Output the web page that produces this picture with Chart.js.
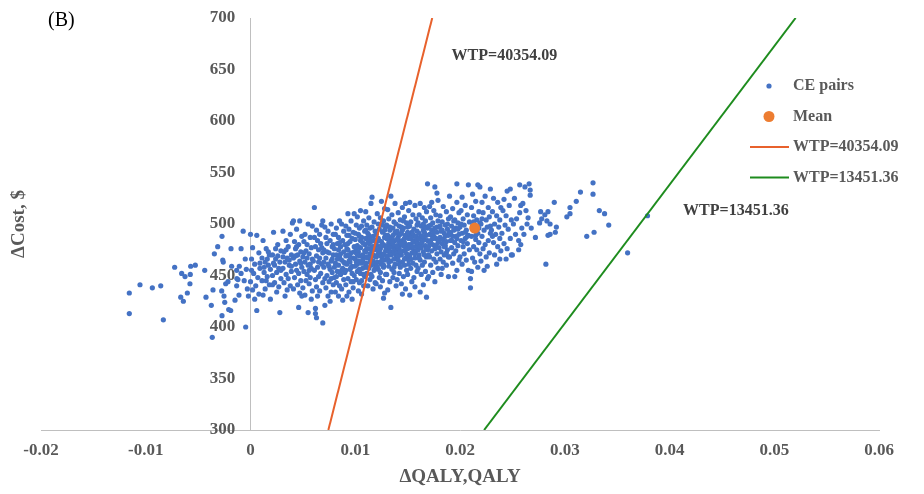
<!DOCTYPE html>
<html lang="en">
  <head>
    <meta charset="UTF-8" />
    <title>Cost-effectiveness plane (B)</title>
    <script src="https://cdn.jsdelivr.net/npm/chart.js"></script>
    <style>
      * {
        margin: 0;
        padding: 0;
        box-sizing: border-box;
      }

      body {
        background: #ffffff;
      }

      .chart-box {
        position: relative;
        width: 924px;
        height: 494px;
      }
    </style>
  </head>
  <body>
    <div class="chart-box">
      <canvas id="cePlane"></canvas>
    </div>

    <script>
      const xTicks = [-0.02, -0.01, 0, 0.01, 0.02, 0.03, 0.04, 0.05, 0.06];
      const yTicks = [300, 350, 400, 450, 500, 550, 600, 650, 700];
      const wtpValues = [40354.09, 13451.36];
      const meanPair = [0.0214, 496];

      // incremental QALY, incremental cost
      const cePairs = [
        [-0.01157,433],[-0.01157,413],[-0.01055,441],[-0.00937,438],[-0.00857,440],[-0.00832,407],[-0.00724,458],[-0.00657,452],
        [-0.00625,449],[-0.00571,459],[-0.00527,460],[-0.00575,451],[-0.00578,442],[-0.00603,433],[-0.00666,429],[-0.00641,425],
        [-0.00437,455],[-0.00425,429],[-0.00374,421],[-0.00365,390],[-0.00272,488],[-0.00313,478],[-0.00345,471],[-0.00186,476],
        [-0.00265,465],[-0.0026,463],[-0.0018,459],[-0.00358,436],[-0.00275,435],[-0.00253,430],[-0.00246,424],[-0.00208,417],
        [-0.00189,416],[-0.00272,411],[-0.00148,426],[-0.00237,442],[-0.00215,444],[-0.00132,455],[-0.00132,440],[-0.0011,431],
        [-0.00046,400],[-0.0007,493],[-0.00107,459],[-0.0009,452],[-0.0012,446],[-0.0004,456],[-0.0003,437],[-0.0006,445],
        [-0.0002,430],[-0.0009,476],[-0.0005,466],[-0.0013,447],
        [0.0000,490],[0.0006,489],[0.0002,477],[0.0008,472],[0.0001,466],[0.0004,461],[0.0009,457],[0.0003,452],[0.0007,448],
        [0.0000,444],[0.0005,440],[0.0002,436],[0.0008,432],[0.0004,427],[0.0006,416],[0.0009,462],[0.0001,455],
        [0.0012,484],[0.0015,476],[0.0018,470],[0.0011,467],[0.0014,463],[0.0017,460],[0.0019,456],[0.0013,453],[0.0016,449],
        [0.0011,445],[0.0018,441],[0.0014,437],[0.0012,431],[0.0019,427],[0.0016,466],[0.0013,458],[0.0017,473],[0.0015,445],
        [0.0022,492],[0.0026,480],[0.0029,474],[0.0021,470],[0.0024,466],[0.0028,463],[0.0023,460],[0.0027,457],[0.0025,453],
        [0.0021,450],[0.0029,447],[0.0023,443],[0.0027,439],[0.0025,434],[0.0028,414],[0.0022,462],[0.0026,469],[0.0024,476],
        [0.0029,455],[0.0021,441],
        [0.0031,493],[0.0038,490],[0.0040,501],[0.0034,484],[0.0036,478],[0.0032,473],[0.0039,470],[0.0035,467],[0.0033,463],
        [0.0037,460],[0.0031,457],[0.0039,454],[0.0034,451],[0.0036,447],[0.0032,443],[0.0038,440],[0.0035,436],[0.0033,430],
        [0.0037,465],[0.0031,468],[0.0039,459],[0.0034,475],
        [0.0041,503],[0.0047,503],[0.0044,495],[0.0049,488],[0.0042,483],[0.0046,480],[0.0043,476],[0.0048,473],[0.0045,470],
        [0.0041,467],[0.0047,464],[0.0043,461],[0.0049,458],[0.0044,455],[0.0046,452],[0.0042,448],[0.0048,445],[0.0045,441],
        [0.0041,437],[0.0047,433],[0.0049,430],[0.0046,419],[0.0043,469],[0.0048,462],[0.0044,478],
        [0.0055,500],[0.0059,498],[0.0052,490],[0.0057,487],[0.0051,483],[0.0054,480],[0.0058,477],[0.0053,474],[0.0056,471],
        [0.0050,468],[0.0059,466],[0.0052,463],[0.0055,460],[0.0058,457],[0.0051,454],[0.0054,451],[0.0057,448],[0.0053,445],
        [0.0056,442],[0.0050,438],[0.0059,435],[0.0052,431],[0.0055,414],[0.0058,427],[0.0054,467],[0.0057,461],[0.0051,472],
        [0.0056,455],
        [0.0061,516],[0.0069,503],[0.0068,499],[0.0063,494],[0.0066,490],[0.0061,487],[0.0064,484],[0.0067,481],[0.0062,478],
        [0.0065,475],[0.0069,472],[0.0063,469],[0.0066,467],[0.0060,464],[0.0068,461],[0.0064,458],[0.0061,455],[0.0067,452],
        [0.0065,449],[0.0062,446],[0.0069,443],[0.0063,439],[0.0066,435],[0.0064,430],[0.0062,418],[0.0062,413],[0.0063,409],
        [0.0069,404],[0.0065,463],[0.0068,477],
        [0.0071,497],[0.0077,500],[0.0074,493],[0.0079,490],[0.0072,487],[0.0076,484],[0.0073,481],[0.0078,478],[0.0070,475],
        [0.0075,472],[0.0079,470],[0.0072,467],[0.0077,464],[0.0074,461],[0.0070,458],[0.0076,456],[0.0078,453],[0.0073,450],
        [0.0071,447],[0.0075,444],[0.0079,441],[0.0072,438],[0.0077,434],[0.0074,430],[0.0076,425],[0.0071,421],[0.0078,466],
        [0.0073,473],[0.0075,459],[0.0079,480],[0.0070,463],[0.0077,447],
        [0.0085,503],[0.0087,500],[0.0082,496],[0.0089,493],[0.0081,490],[0.0084,487],[0.0088,484],[0.0083,481],[0.0086,478],
        [0.0080,476],[0.0089,473],[0.0082,470],[0.0085,468],[0.0087,465],[0.0081,462],[0.0084,460],[0.0088,457],[0.0083,454],
        [0.0086,451],[0.0080,448],[0.0089,446],[0.0082,443],[0.0085,440],[0.0087,437],[0.0081,434],[0.0084,430],[0.0088,426],
        [0.0083,466],[0.0086,471],[0.0080,458],[0.0089,463],[0.0084,475],[0.0087,455],[0.0082,449],[0.0085,482],
        [0.0093,510],[0.0099,510],[0.0096,503],[0.0091,498],[0.0094,495],[0.0098,492],[0.0092,489],[0.0097,486],[0.0095,483],
        [0.0090,480],[0.0099,478],[0.0093,475],[0.0096,472],[0.0091,469],[0.0098,467],[0.0094,464],[0.0092,461],[0.0097,459],
        [0.0095,456],[0.0090,453],[0.0099,450],[0.0093,447],[0.0096,444],[0.0091,441],[0.0098,438],[0.0094,434],[0.0092,430],
        [0.0097,427],[0.0095,468],[0.0090,462],[0.0099,473],[0.0093,481],[0.0096,458],[0.0092,476],[0.0097,452],[0.0094,489],
        [0.0091,455],[0.0098,444],[0.0095,463],[0.0093,470],
        [0.0105,513],[0.0102,507],[0.0108,503],[0.0101,499],[0.0104,496],[0.0109,493],[0.0103,490],[0.0106,487],[0.0100,485],
        [0.0107,482],[0.0102,479],[0.0105,477],[0.0109,474],[0.0101,472],[0.0104,469],[0.0108,467],[0.0103,464],[0.0106,462],
        [0.0100,459],[0.0107,457],[0.0102,454],[0.0105,452],[0.0109,449],[0.0101,446],[0.0104,443],[0.0108,440],[0.0103,435],
        [0.0106,432],[0.0100,466],[0.0107,470],[0.0102,461],[0.0105,484],[0.0109,458],[0.0101,476],[0.0104,488],[0.0108,451],
        [0.0103,473],[0.0106,445],[0.0100,491],[0.0107,465],[0.0102,470],[0.0109,480],[0.0104,456],[0.0106,498],[0.0101,463],
        [0.0116,526],[0.0115,520],[0.0110,512],[0.0113,506],[0.0118,502],[0.0111,499],[0.0114,496],[0.0119,493],[0.0112,491],
        [0.0117,488],[0.0110,486],[0.0115,483],[0.0113,481],[0.0118,478],[0.0111,476],[0.0116,474],[0.0114,471],[0.0119,469],
        [0.0112,467],[0.0117,464],[0.0110,462],[0.0115,460],[0.0113,457],[0.0118,455],[0.0111,452],[0.0116,449],[0.0114,446],
        [0.0119,443],[0.0112,440],[0.0117,437],[0.0110,473],[0.0115,467],[0.0113,489],[0.0118,484],[0.0111,458],[0.0116,478],
        [0.0114,463],[0.0119,475],[0.0112,482],[0.0117,470],[0.0110,494],[0.0115,451],[0.0113,476],[0.0118,461],[0.0111,468],
        [0.0116,497],[0.0114,485],[0.0119,457],
        [0.0125,522],[0.0128,515],[0.0121,510],[0.0124,506],[0.0127,503],[0.0122,500],[0.0129,497],[0.0123,495],[0.0126,492],
        [0.0120,490],[0.0128,487],[0.0121,485],[0.0125,483],[0.0127,480],[0.0122,478],[0.0124,476],[0.0129,474],[0.0123,472],
        [0.0126,470],[0.0120,468],[0.0128,465],[0.0121,463],[0.0125,461],[0.0127,458],[0.0122,456],[0.0124,453],[0.0129,451],
        [0.0123,448],[0.0126,445],[0.0120,442],[0.0128,433],[0.0127,428],[0.0124,439],[0.0122,471],[0.0125,479],[0.0129,489],
        [0.0121,476],[0.0126,466],[0.0123,484],[0.0127,460],[0.0120,481],[0.0128,494],[0.0124,469],[0.0122,486],[0.0125,464],
        [0.0129,478],[0.0121,459],[0.0126,499],[0.0123,474],[0.0127,471],
        [0.0134,527],[0.0138,520],[0.0131,514],[0.0135,509],[0.0132,505],[0.0137,502],[0.0130,499],[0.0136,496],[0.0133,494],
        [0.0139,491],[0.0131,489],[0.0134,486],[0.0138,484],[0.0132,482],[0.0135,479],[0.0137,477],[0.0130,475],[0.0136,473],
        [0.0133,471],[0.0139,468],[0.0131,466],[0.0134,464],[0.0138,461],[0.0132,459],[0.0135,456],[0.0137,453],[0.0130,451],
        [0.0136,448],[0.0133,444],[0.0139,440],[0.0134,419],[0.0131,436],[0.0135,487],[0.0132,474],[0.0138,492],[0.0136,481],
        [0.0130,469],[0.0133,497],[0.0137,466],[0.0131,479],[0.0139,476],[0.0134,470],[0.0136,489],[0.0132,463],[0.0138,471],
        [0.0135,483],[0.0130,486],[0.0137,458],[0.0133,477],[0.0139,500],
        [0.0148,520],[0.0145,516],[0.0141,511],[0.0147,507],[0.0143,504],[0.0149,501],[0.0142,498],[0.0146,496],[0.0140,493],
        [0.0144,491],[0.0148,489],[0.0141,487],[0.0145,484],[0.0147,482],[0.0143,480],[0.0149,478],[0.0142,476],[0.0146,474],
        [0.0140,472],[0.0144,470],[0.0148,467],[0.0141,465],[0.0145,463],[0.0147,460],[0.0143,458],[0.0149,455],[0.0142,452],
        [0.0146,449],[0.0140,446],[0.0144,442],[0.0148,437],[0.0145,432],[0.0141,477],[0.0147,486],[0.0143,490],[0.0149,471],
        [0.0142,483],[0.0146,479],[0.0140,485],[0.0144,497],[0.0148,475],[0.0141,469],[0.0145,494],[0.0147,466],[0.0143,473],
        [0.0149,488],[0.0142,461],[0.0146,503],[0.0140,479],[0.0144,481],
        [0.0152,521],[0.0157,518],[0.0151,513],[0.0155,509],[0.0158,505],[0.0153,502],[0.0159,499],[0.0150,497],[0.0156,495],
        [0.0154,492],[0.0152,490],[0.0157,488],[0.0151,486],[0.0155,484],[0.0158,482],[0.0153,480],[0.0159,478],[0.0150,476],
        [0.0156,474],[0.0154,472],[0.0152,469],[0.0157,467],[0.0151,465],[0.0155,462],[0.0158,460],[0.0153,457],[0.0159,454],
        [0.0150,451],[0.0156,448],[0.0154,444],[0.0152,431],[0.0157,439],[0.0151,480],[0.0155,490],[0.0158,474],[0.0153,486],
        [0.0159,493],[0.0150,470],[0.0156,483],[0.0154,477],[0.0152,498],[0.0157,471],[0.0151,461],[0.0155,478],[0.0158,488],
        [0.0153,466],[0.0159,484],[0.0150,492],
        [0.0169,539],[0.0162,520],[0.0166,516],[0.0168,512],[0.0161,509],[0.0164,506],[0.0167,503],[0.0160,501],[0.0163,498],
        [0.0169,496],[0.0165,494],[0.0161,491],[0.0168,489],[0.0162,487],[0.0166,485],[0.0164,483],[0.0160,481],[0.0167,479],
        [0.0163,477],[0.0169,475],[0.0165,473],[0.0161,470],[0.0168,468],[0.0162,465],[0.0166,463],[0.0164,460],[0.0160,457],
        [0.0167,454],[0.0163,451],[0.0169,447],[0.0162,434],[0.0168,429],[0.0165,441],[0.0161,486],[0.0166,492],[0.0163,481],
        [0.0167,497],[0.0160,475],[0.0164,488],[0.0169,484],[0.0162,478],[0.0165,500],[0.0161,467],[0.0168,476],[0.0166,470],
        [0.0176,536],[0.0178,530],[0.0179,523],[0.0173,521],[0.0171,517],[0.0175,513],[0.0177,509],[0.0172,506],[0.0179,503],
        [0.0174,501],[0.0170,498],[0.0176,496],[0.0173,494],[0.0178,492],[0.0171,490],[0.0175,488],[0.0177,486],[0.0172,484],
        [0.0179,482],[0.0174,480],[0.0170,478],[0.0176,476],[0.0173,474],[0.0178,471],[0.0171,468],[0.0175,466],[0.0177,463],
        [0.0172,460],[0.0179,457],[0.0174,453],[0.0170,449],[0.0176,444],[0.0173,489],[0.0178,497],[0.0171,482],[0.0175,492],
        [0.0177,479],[0.0172,499],[0.0174,486],[0.0170,470],
        [0.0190,527],[0.0184,517],[0.0187,512],[0.0181,508],[0.0189,505],[0.0183,502],[0.0186,499],[0.0180,497],[0.0188,495],
        [0.0182,493],[0.0185,491],[0.0189,489],[0.0181,487],[0.0184,485],[0.0187,483],[0.0183,481],[0.0186,479],[0.0180,477],
        [0.0188,475],[0.0182,473],[0.0185,470],[0.0189,468],[0.0181,466],[0.0184,463],[0.0187,460],[0.0183,457],[0.0182,451],
        [0.0189,449],[0.0186,488],[0.0180,484],[0.0188,500],[0.0185,478],[0.0183,494],[0.0187,472],[0.0181,498],
        [0.0197,539],[0.0197,521],[0.0193,515],[0.0199,511],[0.0191,507],[0.0195,504],[0.0198,501],[0.0192,498],[0.0196,496],
        [0.0194,494],[0.0190,492],[0.0199,490],[0.0193,488],[0.0197,486],[0.0191,484],[0.0195,482],[0.0198,479],[0.0192,477],
        [0.0196,474],[0.0194,471],[0.0190,468],[0.0199,465],[0.0193,462],[0.0197,455],[0.0195,449],[0.0191,491],[0.0196,488],
        [0.0198,495],[0.0192,484],[0.0194,503],
        [0.0208,538],[0.0202,526],[0.0205,518],[0.0201,513],[0.0207,509],[0.0203,505],[0.0209,502],[0.0204,499],[0.0200,497],
        [0.0206,494],[0.0202,491],[0.0208,489],[0.0205,486],[0.0201,484],[0.0207,481],[0.0203,478],[0.0209,475],[0.0204,471],
        [0.0200,468],[0.0206,465],[0.0202,461],[0.0208,455],[0.0210,447],[0.0210,438],[0.0205,492],[0.0201,500],[0.0207,488],
        [0.0203,483],
        [0.0217,538],[0.0219,536],[0.0212,529],[0.0215,522],[0.0211,516],[0.0218,512],[0.0213,508],[0.0216,504],[0.0219,501],
        [0.0212,498],[0.0214,494],[0.0217,491],[0.0211,488],[0.0215,485],[0.0218,482],[0.0213,478],[0.0216,475],[0.0219,471],
        [0.0212,467],[0.0214,463],[0.0217,458],[0.0211,454],[0.0215,489],[0.0218,496],[0.0213,502],
        [0.0229,534],[0.0224,527],[0.0221,521],[0.0227,516],[0.0222,511],[0.0228,507],[0.0225,504],[0.0220,500],[0.0226,497],
        [0.0223,494],[0.0229,491],[0.0221,488],[0.0227,484],[0.0224,480],[0.0222,476],[0.0228,472],[0.0225,468],[0.0220,464],
        [0.0226,459],[0.0223,455],[0.0229,498],[0.0221,505],
        [0.0232,525],[0.0236,521],[0.0239,516],[0.0231,512],[0.0235,508],[0.0238,504],[0.0233,500],[0.0237,497],[0.0230,494],
        [0.0234,490],[0.0238,486],[0.0232,482],[0.0236,478],[0.0239,474],[0.0233,470],[0.0238,466],[0.0235,461],[0.0231,488],
        [0.0245,532],[0.0248,534],[0.0242,524],[0.0247,518],[0.0241,513],[0.0244,508],[0.0249,504],[0.0243,499],[0.0246,495],
        [0.0240,491],[0.0248,486],[0.0242,481],[0.0245,476],[0.0249,470],[0.0244,466],
        [0.0257,538],[0.0252,525],[0.0258,518],[0.0257,511],[0.0254,505],[0.0251,500],[0.0259,496],[0.0253,490],[0.0256,484],
        [0.0256,475],[0.0250,470],[0.0258,480],
        [0.0262,536],[0.0266,539],[0.0267,533],[0.0267,528],[0.0260,520],[0.0263,513],[0.0265,506],[0.0268,496],[0.0261,490],
        [0.0264,500],
        [0.0272,487],[0.0276,501],[0.0281,509],[0.0283,503],[0.0284,489],[0.0282,461],[0.0286,500],[0.0286,490],[0.0290,521],
        [0.0291,492],[0.0292,497],[0.0277,512],[0.0284,512],[0.0278,505],
        [0.0327,540],[0.0327,529],[0.0315,531],[0.0311,522],[0.0305,516],[0.0305,510],[0.0302,507],[0.0333,513],[0.0338,510],
        [0.0342,499],[0.0328,492],[0.0321,488],[0.0360,472],[0.0379,508]
      ];

      const serif = '"Liberation Serif", "Times New Roman", serif';
      const textGrey = "#595959";
      const axisGrey = "#BFBFBF";

      // cost = WTP * QALY, drawn across the visible cost range
      function wtpLine(wtp) {
        const lo = yTicks[0];
        const hi = yTicks[yTicks.length - 1];
        return [
          { x: lo / wtp, y: lo },
          { x: hi / wtp, y: hi },
        ];
      }

      const extraText = {
        id: "extraText",
        afterDraw(chart, args, opts) {
          const ctx = chart.ctx;
          const area = chart.chartArea;
          const xs = chart.scales.x;
          const ys = chart.scales.y;
          ctx.save();
          ctx.textBaseline = "middle";

          // panel letter
          ctx.fillStyle = "#000";
          ctx.font = "20px " + serif;
          ctx.textAlign = "left";
          ctx.fillText("(B)", 48, 21);

          // axis titles
          ctx.fillStyle = textGrey;
          ctx.font = "bold 19px " + serif;
          ctx.textAlign = "center";
          ctx.fillText("\u0394QALY,QALY", (area.left + area.right) / 2, 477);
          ctx.save();
          ctx.translate(19, (area.top + area.bottom) / 2);
          ctx.rotate(-Math.PI / 2);
          ctx.fillText("\u0394Cost, $", 0, 0);
          ctx.restore();

          // WTP labels next to the lines
          ctx.fillStyle = "#404040";
          ctx.font = "bold 16px " + serif;
          ctx.textAlign = "left";
          opts.notes.forEach((n) => {
            ctx.fillText(n.text, xs.getPixelForValue(n.x), ys.getPixelForValue(n.y));
          });

          // legend
          chart.data.datasets.forEach((ds, i) => {
            const y = opts.legendTop + i * opts.legendGap;
            const mx = opts.legendX;
            if (ds.showLine) {
              ctx.strokeStyle = ds.borderColor;
              ctx.lineWidth = ds.borderWidth;
              ctx.beginPath();
              ctx.moveTo(mx - 19, y);
              ctx.lineTo(mx + 20, y);
              ctx.stroke();
            } else {
              ctx.fillStyle = ds.backgroundColor;
              ctx.beginPath();
              ctx.arc(mx, y, ds.pointRadius, 0, Math.PI * 2);
              ctx.fill();
            }
            ctx.fillStyle = textGrey;
            ctx.fillText(ds.label, mx + 24, y);
          });
          ctx.restore();
        },
      };

      const tickFont = { family: serif, size: 17, weight: "bold", lineHeight: 1 };

      new Chart(document.getElementById("cePlane"), {
        type: "scatter",
        data: {
          datasets: [
            {
              label: "CE pairs",
              data: cePairs.map(([x, y]) => ({ x, y })),
              backgroundColor: "#4472C4",
              borderWidth: 0,
              pointRadius: 2.6,
              order: 3,
            },
            {
              label: "Mean",
              data: [{ x: meanPair[0], y: meanPair[1] }],
              backgroundColor: "#ED7D31",
              borderWidth: 0,
              pointRadius: 5.5,
              order: 0,
            },
            {
              label: "WTP=" + wtpValues[0].toFixed(2),
              data: wtpLine(wtpValues[0]),
              showLine: true,
              borderColor: "#E8612C",
              borderWidth: 2,
              pointRadius: 0,
              order: 1,
            },
            {
              label: "WTP=" + wtpValues[1].toFixed(2),
              data: wtpLine(wtpValues[1]),
              showLine: true,
              borderColor: "#1E8C1E",
              borderWidth: 2,
              pointRadius: 0,
              order: 1,
            },
          ],
        },
        options: {
          responsive: true,
          maintainAspectRatio: false,
          animation: false,
          layout: {
            padding: { left: 41, right: 45, top: 18, bottom: 23 },
          },
          scales: {
            x: {
              type: "linear",
              position: "bottom",
              min: xTicks[0],
              max: xTicks[xTicks.length - 1],
              afterBuildTicks: (s) => {
                s.ticks = xTicks.map((v) => ({ value: v }));
              },
              grid: { display: false, drawTicks: false },
              border: { display: true, color: axisGrey, width: 1 },
              ticks: {
                color: textGrey,
                font: tickFont,
                padding: 12,
                maxRotation: 0,
                autoSkip: false,
                callback: (v) => String(v),
              },
            },
            // vertical axis line crossing at QALY = 0
            y: {
              type: "linear",
              position: { x: 0 },
              min: yTicks[0],
              max: yTicks[yTicks.length - 1],
              grid: { display: false, drawTicks: false },
              border: { display: true, color: axisGrey, width: 1 },
              ticks: { display: false },
            },
            // its tick labels, set a little to the left of the line
            yLabels: {
              axis: "y",
              type: "linear",
              position: { x: -0.00145 },
              min: yTicks[0],
              max: yTicks[yTicks.length - 1],
              afterBuildTicks: (s) => {
                s.ticks = yTicks.map((v) => ({ value: v }));
              },
              grid: { display: false, drawTicks: false },
              border: { display: false },
              ticks: {
                color: textGrey,
                font: tickFont,
                padding: 0,
                autoSkip: false,
              },
            },
          },
          plugins: {
            legend: { display: false },
            tooltip: { enabled: false },
            extraText: {
              legendX: 769,
              legendTop: 86,
              legendGap: 30.5,
              notes: [
                { text: "WTP=40354.09", x: 0.0192, y: 663 },
                { text: "WTP=13451.36", x: 0.0413, y: 513 },
              ],
            },
          },
        },
        plugins: [extraText],
      });
    </script>
  </body>
</html>
